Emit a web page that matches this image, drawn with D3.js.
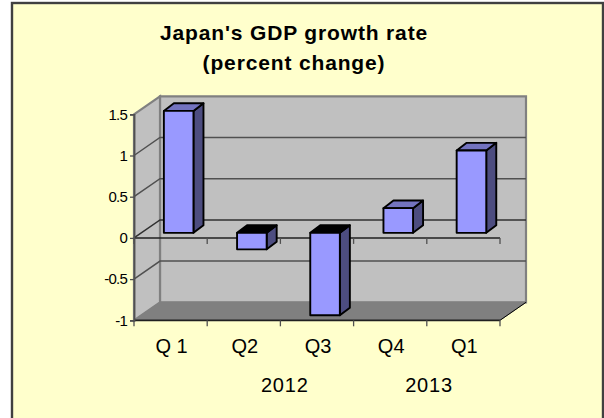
<!DOCTYPE html>
<html><head><meta charset="utf-8">
<script src="https://cdn.jsdelivr.net/npm/d3@7"></script>
<style>html,body{margin:0;padding:0;background:#fff}svg{display:block}text{font-family:"Liberation Sans",Arial,sans-serif;fill:#000}</style>
</head><body><div id="c"></div>
<script>
const categories = ["Q 1","Q2","Q3","Q4","Q1"];
const values = [1.48,-0.2,-1,0.3,1];
const yTicks = [1.5,1,0.5,0,-0.5,-1];
const years = [{label:"2012",after:2.06},{label:"2013",after:4.03}];
const titleLines = ["Japan's GDP growth rate","(percent change)"];

const W=604,H=418;
const svg=d3.select("#c").append("svg").attr("width",W).attr("height",H);
svg.append("rect").attr("x",12).attr("y",3).attr("width",591).attr("height",H).attr("fill","#FFFFCC").attr("stroke","#404040").attr("stroke-width",2.4);

const x=d3.scaleBand().domain(categories).range([134,500]);
const y=d3.scaleLinear().domain([-1,1.5]).range([320.3,114.3]);
const DX=26,DY=-18;
const [yMin,yMax]=[y(-1),y(1.5)], [xL,xR]=x.range();
const line=d3.line();
const g=svg.append("g");
g.append("path").attr("d",line([[xL+DX,yMax+DY],[xR+DX,yMax+DY],[xR+DX,yMin+DY],[xL+DX,yMin+DY]])+"Z").attr("fill","#C0C0C0").attr("stroke","#808080").attr("stroke-width",2.2);
g.append("path").attr("d",line([[xL,yMax],[xL+DX,yMax+DY],[xL+DX,yMin+DY],[xL,yMin]])+"Z").attr("fill","#C0C0C0").attr("stroke","#808080").attr("stroke-width",2.2);
g.append("path").attr("d",line([[xL,yMin],[xL+DX,yMin+DY],[xR+DX,yMin+DY],[xR,yMin]])+"Z").attr("fill","#808080").attr("stroke","#808080");
yTicks.filter(t=>t>-1&&t<1.5).forEach(t=>{
  g.append("path").attr("d",line([[xL,y(t)],[xL+DX,y(t)+DY],[xR+DX,y(t)+DY]])).attr("fill","none").attr("stroke",t===0?"#303030":"#505050").attr("stroke-width",1.5);
});
g.append("path").attr("d",line([[xR,yMin],[xR+DX,yMin+DY]])).attr("stroke","#000").attr("fill","none");
const tickXs=d3.range(categories.length+1).map(i=>xL+i*x.step());
[y(0),yMin].forEach((yy,k)=>{
  g.append("line").attr("x1",xL).attr("x2",xR).attr("y1",yy).attr("y2",yy).attr("stroke","#202020").attr("stroke-width",k?1.8:1.5);
  g.selectAll(null).data(tickXs).join("line").attr("x1",d=>d).attr("x2",d=>d).attr("y1",yy).attr("y2",yy+6).attr("stroke","#505050").attr("stroke-width",1.3);
});
const ax=svg.append("g").attr("transform",`translate(${xL},0)`)
  .call(d3.axisLeft(y).tickValues(yTicks).tickFormat(String).tickSize(4).tickPadding(3));
ax.select(".domain").attr("stroke","#505050").attr("stroke-width",1.8);
ax.selectAll(".tick line").attr("stroke","#505050").attr("stroke-width",1.3);
ax.selectAll("text").style("font-size","15px").style("letter-spacing","-0.8px").style("font-family",'"Liberation Sans"');
const bx=svg.append("g").attr("transform",`translate(1,${yMin+18})`)
  .call(d3.axisBottom(x).tickSize(0).tickPadding(0));
bx.select(".domain").remove();
bx.selectAll("text").style("font-size","20px").style("font-family",'"Liberation Sans"');
const off=0.28,dep=0.385;
const bars=svg.append("g").selectAll("g").data(values).join("g");
bars.each(function(v,i){
  const s=d3.select(this);
  const x0=x(categories[i])+(x.step()-29.6)/2+DX*0.31, x1=x0+29.6;
  const y0=y(0)+DY*off, yv=y(v)+DY*off, top=Math.min(y0,yv), bot=Math.max(y0,yv);
  const dx=DX*dep,dy=DY*dep*1.1;
  const st=(p,f)=>s.append("path").attr("d",line(p)+"Z").attr("fill",f).attr("stroke","#000").attr("stroke-width",1.9).attr("stroke-linejoin","round");
  st([[x1,top],[x1+dx,top+dy],[x1+dx,bot+dy],[x1,bot]],"#4D4D80");
  st([[x0,top],[x0+dx,top+dy],[x1+dx,top+dy],[x1,top]],v<0?"#000":"#7373BF");
  st([[x0,top],[x1,top],[x1,bot],[x0,bot]],"#9999FF");
});
svg.append("g").selectAll("text").data(titleLines).join("text").attr("x",294).attr("y",(d,i)=>40+i*29.5).attr("text-anchor","middle").attr("font-weight","bold").attr("font-size","21px").attr("letter-spacing","0.85px").text(d=>d);
svg.append("g").selectAll("text").data(years).join("text").attr("x",d=>xL+d.after*x.step()).attr("y",392).attr("text-anchor","middle").attr("font-size","20px").attr("letter-spacing","0.8px").text(d=>d.label);
</script></body></html>
